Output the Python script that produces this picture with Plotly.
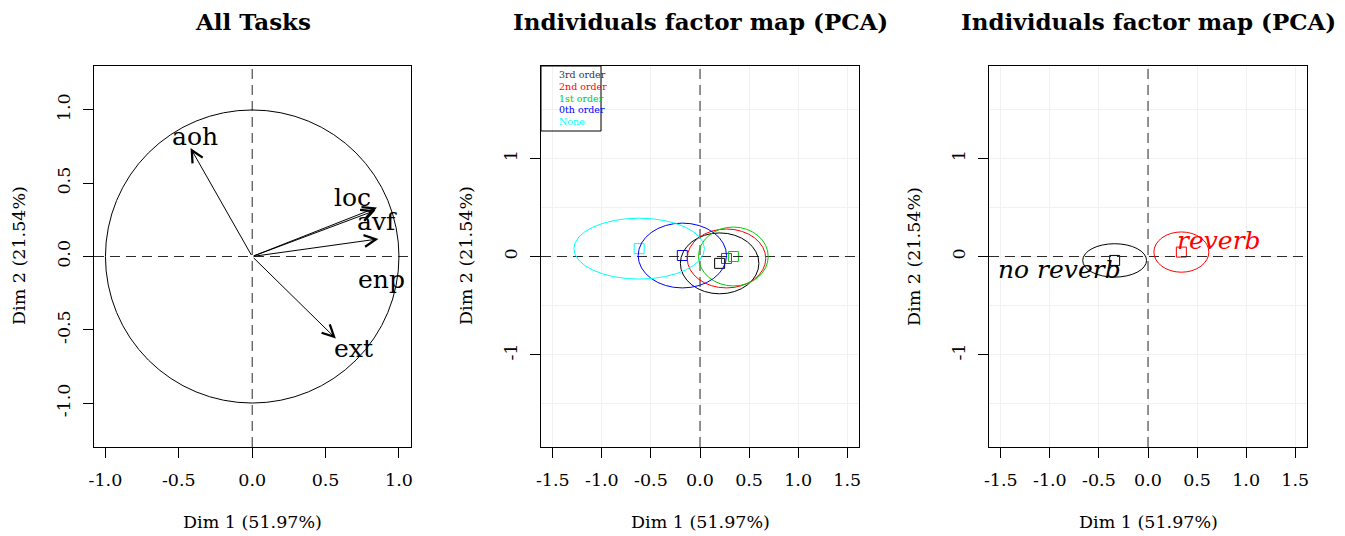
import plotly.graph_objects as go

# ---------------- data ----------------
# Panel 1: variables factor map (correlation circle)
var_names = ["aoh", "loc", "avf", "enp", "ext"]
var_x = [-0.42, 0.85, 0.84, 0.86, 0.57]
var_y = [0.74, 0.335, 0.315, 0.12, -0.56]
var_label_x = [-0.39, 0.68, 0.85, 0.88, 0.69]
var_label_y = [0.82, 0.40, 0.24, -0.16, -0.63]

# Panel 2: individuals by order
order_names = ["3rd order", "2nd order", "1st order", "0th order", "None"]
order_colors = ["#000000", "#FF0000", "#00CD00", "#0000FF", "#00FFFF"]
order_cx = [0.20, 0.27, 0.34, -0.18, -0.62]
order_cy = [-0.07, -0.02, 0.00, 0.01, 0.08]
order_rx = [0.40, 0.40, 0.355, 0.45, 0.665]
order_ry = [0.31, 0.30, 0.30, 0.33, 0.31]

# Panel 3: individuals by reverb
rev_names = ["no reverb", "reverb"]
rev_colors = ["#000000", "#FF0000"]
rev_cx = [-0.34, 0.34]
rev_cy = [-0.04, 0.045]
rev_rx = [0.325, 0.28]
rev_ry = [0.17, 0.205]
rev_label_x = [-0.90, 0.72]
rev_label_y = [-0.13, 0.16]

ticks1 = [-1.0, -0.5, 0.0, 0.5, 1.0]
ticks2x = [-1.5, -1.0, -0.5, 0.0, 0.5, 1.0, 1.5]
ticks2y = [-1, 0, 1]
grid2y = [-1.5, -0.5, 0.5, 1.5]

xlab = "Dim 1 (51.97%)"
ylab = "Dim 2 (21.54%)"
titles = ["All Tasks", "Individuals factor map (PCA)", "Individuals factor map (PCA)"]

# ---------------- layout helpers ----------------
W, H = 1345, 536
FONT = "DejaVu Serif"
TICKFONT = dict(family=FONT, size=17.5, color="black")
DASH = dict(color="#2a2a2a", width=1, dash="10px,6px")

def px_x(p):
    return p / W

def px_y(p):
    return 1 - p / H

panel_px = [(94, 411), (541, 859), (989, 1307)]
ydom = [px_y(447), px_y(66)]

fig = go.Figure()

def axis_common(standoff):
    return dict(showline=True, mirror=True, linecolor="black", linewidth=1,
                ticks="outside", ticklen=10, tickcolor="black", tickwidth=1,
                zeroline=False, tickfont=TICKFONT, ticklabelstandoff=standoff, automargin=False)

layout = dict(template="none", width=W, height=H, margin=dict(l=0, r=0, t=0, b=0, pad=0),
              plot_bgcolor="white", paper_bgcolor="white", showlegend=False)

# panel 1 axes
layout["xaxis"] = dict(domain=[px_x(94), px_x(411)], range=[-1.078, 1.082],
                       tickvals=ticks1, ticktext=["%.1f" % v for v in ticks1],
                       showgrid=False, anchor="y", **axis_common(7))
layout["yaxis"] = dict(domain=ydom, range=[-1.30, 1.30],
                       tickvals=ticks1, ticktext=["%.1f" % v for v in ticks1],
                       tickangle=-90, showgrid=False, anchor="x", **axis_common(6))
# panels 2 & 3
for i, (a, b) in enumerate(panel_px[1:], start=2):
    layout["xaxis%d" % i] = dict(domain=[px_x(a), px_x(b)], range=[-1.62, 1.62],
                                 tickvals=ticks2x, ticktext=["%.1f" % v for v in ticks2x],
                                 showgrid=True, gridcolor="#f1f1f1", gridwidth=1,
                                 anchor="y%d" % i, **axis_common(7))
    layout["yaxis%d" % i] = dict(domain=ydom, range=[-1.94, 1.94],
                                 tickvals=ticks2y, ticktext=[str(v) for v in ticks2y],
                                 tickangle=-90, showgrid=True, gridcolor="#f1f1f1",
                                 minor=dict(tickvals=grid2y, showgrid=True, gridcolor="#f1f1f1", ticks=""),
                                 anchor="x%d" % i, **axis_common(6))
fig.update_layout(**layout)

shapes = []
annotations = []

# dashed zero lines
for i in ["", "2", "3"]:
    shapes.append(dict(type="line", xref="x%s domain" % i, yref="y%s" % i,
                       x0=0, x1=1, y0=0, y1=0, line=DASH))
    shapes.append(dict(type="line", xref="x%s" % i, yref="y%s domain" % i,
                       x0=0, x1=0, y0=0, y1=1, line=DASH))

# unit circle
shapes.append(dict(type="circle", xref="x", yref="y", x0=-1, x1=1, y0=-1, y1=1,
                   line=dict(color="black", width=1)))

# arrows
for name, x, y, lx, ly in zip(var_names, var_x, var_y, var_label_x, var_label_y):
    annotations.append(dict(x=x, y=y, ax=0, ay=0, xref="x", yref="y", axref="x", ayref="y",
                            text="", showarrow=True, arrowhead=5, arrowsize=2.3, arrowwidth=1,
                            arrowcolor="black", standoff=0))
    annotations.append(dict(x=lx, y=ly, xref="x", yref="y", text=name, showarrow=False,
                            xanchor="center", yanchor="middle",
                            font=dict(family=FONT, size=25, color="black")))

# panel 2 ellipses + points
for name, c, cx, cy, rx, ry in zip(order_names, order_colors, order_cx, order_cy, order_rx, order_ry):
    shapes.append(dict(type="circle", xref="x2", yref="y2", x0=cx - rx, x1=cx + rx,
                       y0=cy - ry, y1=cy + ry, line=dict(color=c, width=1)))
    fig.add_trace(go.Scatter(x=[cx], y=[cy], mode="markers", name=name, xaxis="x2", yaxis="y2",
                             marker=dict(symbol="square-open", size=10, color=c, line=dict(width=1))))

# legend box in panel 2
shapes.append(dict(type="rect", xref="x2 domain", yref="y2 domain",
                   x0=0, x1=(601 - 541) / 318, y0=(447 - 131) / 381, y1=1,
                   line=dict(color="black", width=1)))
for k, (name, c) in enumerate(zip(order_names, order_colors)):
    annotations.append(dict(x=(557 - 541) / 318, y=(447 - 75 - k * 11.6) / 381,
                            xref="x2 domain", yref="y2 domain", xanchor="left", yanchor="middle",
                            text=name, showarrow=False,
                            font=dict(family=FONT, size=9.5, color=c if c != "#000000" else "#333333")))

# panel 3 ellipses + points + labels
for name, c, cx, cy, rx, ry, lx, ly in zip(rev_names, rev_colors, rev_cx, rev_cy, rev_rx, rev_ry,
                                           rev_label_x, rev_label_y):
    shapes.append(dict(type="circle", xref="x3", yref="y3", x0=cx - rx, x1=cx + rx,
                       y0=cy - ry, y1=cy + ry, line=dict(color=c, width=1)))
    fig.add_trace(go.Scatter(x=[cx], y=[cy], mode="markers", name=name, xaxis="x3", yaxis="y3",
                             marker=dict(symbol="square-open", size=10, color=c, line=dict(width=1))))
    annotations.append(dict(x=lx, y=ly, xref="x3", yref="y3", text="<i>%s</i>" % name,
                            xanchor="center", yanchor="middle",
                            showarrow=False, font=dict(family=FONT, size=25, color=c)))

# titles and axis labels
for (a, b), t in zip(panel_px, titles):
    cxp = px_x((a + b) / 2)
    annotations.append(dict(x=cxp, y=px_y(22), xref="paper", yref="paper", text="<b>%s</b>" % t,
                            xanchor="center", yanchor="middle",
                            showarrow=False, font=dict(family=FONT, size=23, color="black")))
    annotations.append(dict(x=cxp, y=px_y(522), xref="paper", yref="paper", text=xlab,
                            xanchor="center", yanchor="middle",
                            showarrow=False, font=dict(family=FONT, size=17.5, color="black")))
    annotations.append(dict(x=px_x(a - 75), y=px_y(256), xref="paper", yref="paper", text=ylab,
                            xanchor="center", yanchor="middle",
                            textangle=-90, showarrow=False, font=dict(family=FONT, size=17.5, color="black")))

fig.update_layout(shapes=shapes, annotations=annotations)
fig.write_html("out.html", config={"displayModeBar": False},
               post_script="document.body.style.margin='0';")
